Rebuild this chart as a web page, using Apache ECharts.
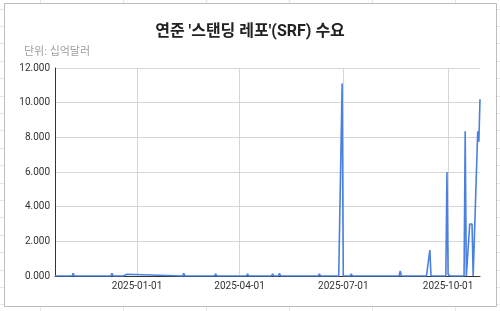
<!DOCTYPE html>
<html><head><meta charset="utf-8">
<script src="https://cdn.jsdelivr.net/npm/echarts@6/dist/echarts.min.js"></script>
<style>html,body{margin:0;padding:0;background:#fff}#c{width:500px;height:311px}</style>
</head><body><div id="c"></div>
<script>
// ---- data (values in 십억달러) ----
const dates = [
  '2024-10-21',
  '2024-11-05','2024-11-06','2024-11-07',
  '2024-12-09','2024-12-10','2024-12-11',
  '2024-12-20','2024-12-23','2024-12-24',
  '2025-02-10','2025-02-11','2025-02-12',
  '2025-03-10','2025-03-11','2025-03-12',
  '2025-04-07','2025-04-08','2025-04-09',
  '2025-04-29','2025-04-30','2025-05-01',
  '2025-05-05','2025-05-06','2025-05-07',
  '2025-06-09','2025-06-10','2025-06-11',
  '2025-06-27','2025-06-30','2025-07-01',
  '2025-07-07','2025-07-08','2025-07-09',
  '2025-08-06','2025-08-07','2025-08-08',
  '2025-08-11','2025-08-12','2025-08-13',
  '2025-08-19','2025-08-20','2025-08-21',
  '2025-09-08','2025-09-09','2025-09-10',
  '2025-09-12','2025-09-15','2025-09-16',
  '2025-09-29','2025-09-30','2025-10-01','2025-10-02','2025-10-03',
  '2025-10-15','2025-10-16','2025-10-17',
  '2025-10-20','2025-10-21','2025-10-22','2025-10-23','2025-10-24',
  '2025-10-27','2025-10-28','2025-10-29'
];
const values = [
  0,
  0, 0.15, 0,
  0, 0.15, 0,
  0, 0.10, 0,
  0, 0.15, 0,
  0, 0.12, 0,
  0, 0.12, 0,
  0, 0.12, 0,
  0, 0.15, 0,
  0, 0.12, 0,
  0, 11.1, 0,
  0, 0.12, 0,
  0, 0.06, 0,
  0, 0.10, 0,
  0, 0.30, 0,
  0, 0.10, 0,
  0, 1.5, 0,
  0, 6.0, 0.10, 0.08, 0,
  0, 8.35, 0,
  3.0, 3.0, 3.0, 0, 0,
  8.35, 7.75, 10.2
];
const xTickLabels = ['2025-01-01','2025-04-01','2025-07-01','2025-10-01'];
const yMin = 0, yMax = 12, yStep = 2;
const titleText = "연준 '스탠딩 레포'(SRF) 수요";
const unitText = '단위: 십억달러';

const FONT = "Roboto, 'Noto Sans CJK KR', sans-serif";
const chart = echarts.init(document.getElementById('c'), null, {renderer: 'canvas'});

// spreadsheet backdrop decoration (cell lines + chart frame)
const deco = [];
for (let x = 40; x < 500; x += 82.9) {
  deco.push({type: 'line', shape: {x1: Math.round(x)+0.5, y1: 0, x2: Math.round(x)+0.5, y2: 311}, style: {stroke: '#e6e6e6', lineWidth: 1}, z: -10});
}
for (let y = 8.6; y < 311; y += 17.4) {
  deco.push({type: 'line', shape: {x1: 0, y1: Math.round(y)+0.5, x2: 500, y2: Math.round(y)+0.5}, style: {stroke: '#e6e6e6', lineWidth: 1}, z: -10});
}
deco.push({type: 'rect', shape: {x: 4.5, y: 3.5, width: 492, height: 303}, style: {fill: '#fff', stroke: '#bdbdbd', lineWidth: 1}, z: -5});

chart.setOption({
  backgroundColor: '#fff',
  animation: false,
  graphic: deco,
  title: [
    {text: titleText, left: 'center', top: 18,
     textStyle: {fontFamily: FONT, fontSize: 16, fontWeight: 'bold', color: '#222', lineHeight: 18}},
    {text: unitText, left: 19, top: 40,
     textStyle: {fontFamily: FONT, fontSize: 11, fontWeight: 'normal', color: '#9e9e9e', lineHeight: 14}}
  ],
  grid: {left: 55, right: 20, top: 68, bottom: 35, containLabel: false, outerBoundsMode: 'none'},
  xAxis: {
    type: 'time',
    min: dates[0], max: dates[dates.length - 1],
    axisLine: {show: true, onZero: false, lineStyle: {color: '#333', width: 1}},
    axisTick: {show: false, customValues: xTickLabels},
    axisLabel: {customValues: xTickLabels, formatter: '{yyyy}-{MM}-{dd}',
      fontFamily: FONT, fontSize: 10, color: '#333', margin: 5},
    splitLine: {show: true, lineStyle: {color: '#d6d6d6', width: 1}}
  },
  yAxis: {
    type: 'value', min: yMin, max: yMax, interval: yStep,
    axisLine: {show: true, lineStyle: {color: '#333', width: 1}},
    axisTick: {show: false},
    axisLabel: {formatter: v => v.toFixed(3), fontFamily: FONT, fontSize: 10, color: '#333', margin: 5},
    splitLine: {show: true, lineStyle: {color: '#d6d6d6', width: 1}}
  },
  series: [{
    type: 'line',
    data: dates.map((d, i) => [d, values[i]]),
    showSymbol: false,
    symbol: 'none',
    lineStyle: {color: '#4a80e0', width: 1.6},
    itemStyle: {color: '#4a80e0'}
  }]
});
</script>
</body></html>
